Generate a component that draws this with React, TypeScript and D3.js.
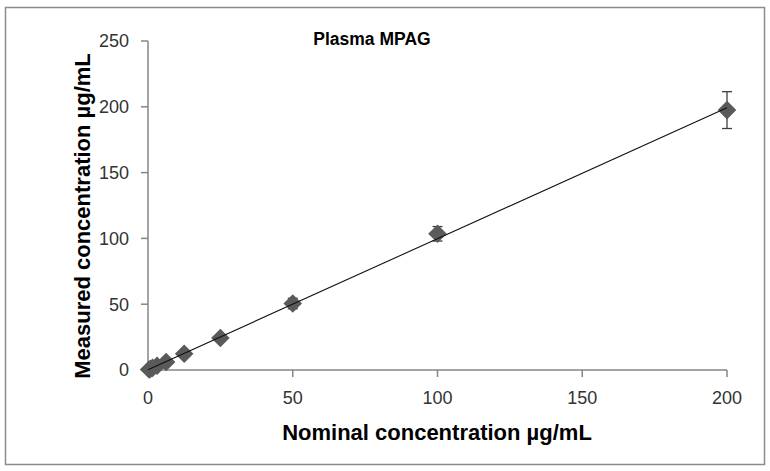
import React from "react";
import * as d3 from "d3";

const nominal = [0.39, 0.78, 1.56, 3.125, 6.25, 12.5, 25, 50, 100, 200];
const measured = [0.4, 0.8, 1.6, 3.2, 6.1, 12.3, 24.3, 50.5, 103.5, 197.5];
const sdev = [0.05, 0.08, 0.15, 0.3, 0.5, 1.0, 1.8, 4.0, 5.5, 14.0];
const xTicks = [0, 50, 100, 150, 200];
const yTicks = [0, 50, 100, 150, 200, 250];

const W = 770;
const H = 471;
const FONT = "'Liberation Sans', Arial, sans-serif";

export default function App() {
  const x = d3.scaleLinear().domain([0, 200]).range([148, 727]);
  const y = d3.scaleLinear().domain([0, 250]).range([370, 41]);

  // least-squares trend line
  const mx = d3.mean(nominal) as number;
  const my = d3.mean(measured) as number;
  let num = 0;
  let den = 0;
  nominal.forEach((v, i) => {
    num += (v - mx) * (measured[i] - my);
    den += (v - mx) * (v - mx);
  });
  const slope = num / den;
  const intercept = my - slope * mx;
  const trendX = [0, 200];
  const line = d3
    .line<number>()
    .x((d) => x(d))
    .y((d) => y(intercept + slope * d));

  const diamond = d3.symbol().type(d3.symbolDiamond2).size(220)() as string;
  const axisColor = "#868686";

  return (
    <svg width={W} height={H} style={{ position: "absolute", left: 0, top: 0 }}>
      <rect x={0} y={0} width={W} height={H} fill="#fff" />
      <rect x={5.5} y={7.5} width={759} height={457} fill="none" stroke="#8c8c8c" strokeWidth={1.5} />

      {/* axes */}
      <line x1={148} x2={148} y1={y(250)} y2={y(0)} stroke={axisColor} strokeWidth={1.5} />
      <line x1={148} x2={727} y1={y(0)} y2={y(0)} stroke={axisColor} strokeWidth={1.5} />
      {yTicks.map((t) => (
        <g key={"y" + t}>
          <line x1={141} x2={148} y1={y(t)} y2={y(t)} stroke={axisColor} strokeWidth={1.5} />
          <text x={129} y={y(t)} dy="0.36em" textAnchor="end" fontFamily={FONT} fontSize={18} fill="#333">
            {t}
          </text>
        </g>
      ))}
      {xTicks.map((t) => (
        <g key={"x" + t}>
          <line x1={x(t)} x2={x(t)} y1={y(0)} y2={y(0) + 7} stroke={axisColor} strokeWidth={1.5} />
          <text x={x(t)} y={404} textAnchor="middle" fontFamily={FONT} fontSize={18} fill="#333">
            {t}
          </text>
        </g>
      ))}

      {/* error bars */}
      {nominal.map((v, i) => (
        <g key={"e" + i} stroke="#404040" strokeWidth={1.3}>
          <line x1={x(v)} x2={x(v)} y1={y(measured[i] + sdev[i])} y2={y(measured[i] - sdev[i])} />
          <line x1={x(v) - 5} x2={x(v) + 5} y1={y(measured[i] + sdev[i])} y2={y(measured[i] + sdev[i])} />
          <line x1={x(v) - 5} x2={x(v) + 5} y1={y(measured[i] - sdev[i])} y2={y(measured[i] - sdev[i])} />
        </g>
      ))}

      {/* markers */}
      {nominal.map((v, i) => (
        <path
          key={"m" + i}
          d={diamond}
          transform={`translate(${x(v)},${y(measured[i])})`}
          fill="#5a5a5a"
        />
      ))}

      {/* trend line */}
      <path d={line(trendX) as string} fill="none" stroke="#111" strokeWidth={1.1} />

      {/* titles */}
      <text x={372} y={45} textAnchor="middle" fontFamily={FONT} fontWeight="bold" fontSize={17.5} fill="#000">
        Plasma MPAG
      </text>
      <text x={437} y={440} textAnchor="middle" fontFamily={FONT} fontWeight="bold" fontSize={22} fill="#000">
        Nominal concentration µg/mL
      </text>
      <text
        transform={`translate(90,${216}) rotate(-90)`}
        textAnchor="middle"
        fontFamily={FONT}
        fontWeight="bold"
        fontSize={22}
        fill="#000"
      >
        Measured concentration µg/mL
      </text>
    </svg>
  );
}
